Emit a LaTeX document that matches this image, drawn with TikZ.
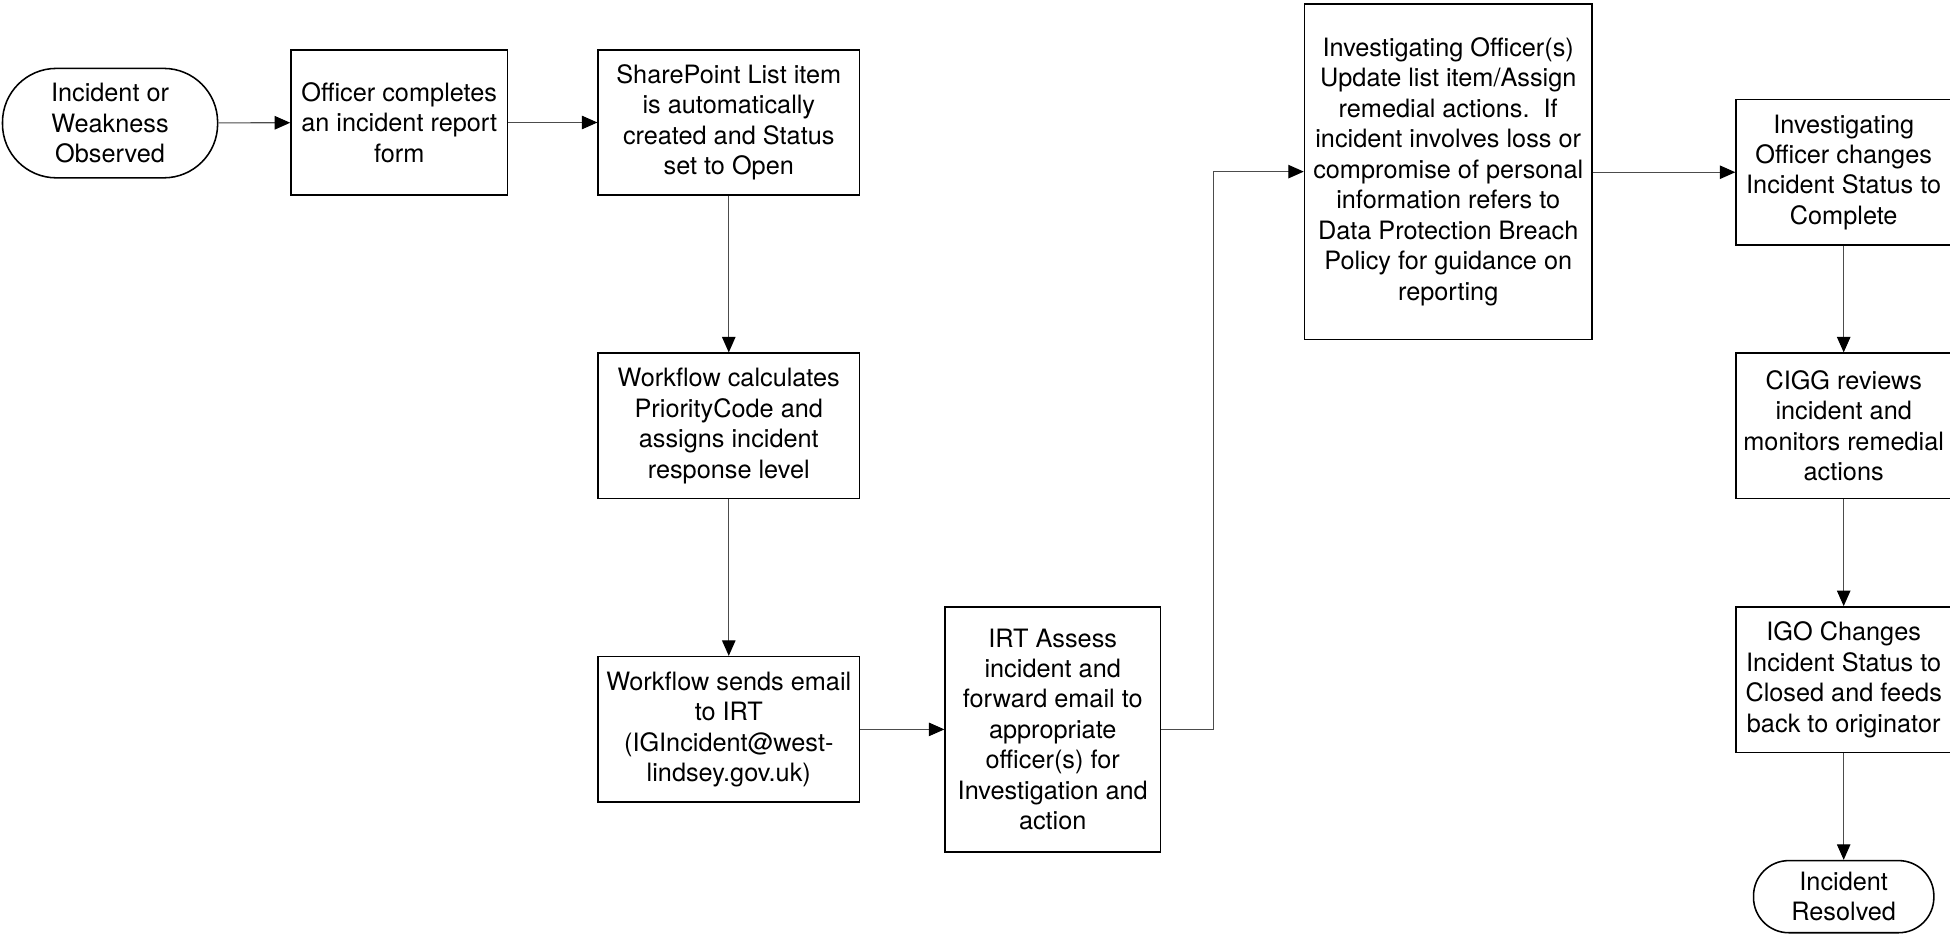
\documentclass[tikz,border=0pt]{standalone}
\usepackage{fontspec}
\setmainfont{TeX Gyre Heros}
\usetikzlibrary{arrows.meta}
\begin{document}
\begin{tikzpicture}[x=0.6pt,y=-0.6pt,
  every node/.style={font=\fontsize{12.2}{14.7}\selectfont, align=center, inner sep=1pt},
  procbox/.style={draw, line width=0.75pt, rectangle},
  termbox/.style={draw, line width=0.75pt, rectangle, rounded corners=#1},
  arr/.style={draw=black!70, line width=0.55pt, -{Triangle[length=7.5pt,width=6.5pt,color=black]}}
]
\useasboundingbox (0,0) rectangle (1568,752);

\node[termbox=26pt, minimum width=103.8pt, minimum height=52.8pt] (t1) at (88.5,99) {Incident or\\Weakness\\Observed};
\node[procbox, minimum width=104.4pt, minimum height=70.2pt] (b2) at (321,98.5) {Officer completes\\an incident report\\form};
\node[procbox, minimum width=126pt, minimum height=70.2pt] (b3) at (586,98.5) {SharePoint List item\\is automatically\\created and Status\\set to Open};
\node[procbox, minimum width=126pt, minimum height=70.2pt] (b4) at (586,342.5) {Workflow calculates\\PriorityCode and\\assigns incident\\response level};
\node[procbox, minimum width=126pt, minimum height=70.2pt] (b5) at (586,586.5) {Workflow sends email\\to IRT\\(IGIncident@west-\\lindsey.gov.uk)};
\node[procbox, minimum width=103.8pt, minimum height=118.2pt] (b6) at (846.5,586.5) {IRT Assess\\incident and\\forward email to\\appropriate\\officer(s) for\\Investigation and\\action};
\node[procbox, minimum width=138.6pt, minimum height=162pt] (b7) at (1164.5,138) {Investigating Officer(s)\\Update list item/Assign\\remedial actions.\ \ If\\incident involves loss or\\compromise of personal\\information refers to\\Data Protection Breach\\Policy for guidance on\\reporting};
\node[procbox, minimum width=103.8pt, minimum height=70.2pt] (b8) at (1482.5,138.5) {Investigating\\Officer changes\\Incident Status to\\Complete};
\node[procbox, minimum width=103.8pt, minimum height=70.2pt] (b9) at (1482.5,342.5) {CIGG reviews\\incident and\\monitors remedial\\actions};
\node[procbox, minimum width=103.8pt, minimum height=70.2pt] (b10) at (1482.5,546.5) {IGO Changes\\Incident Status to\\Closed and feeds\\back to originator};
\node[termbox=17pt, minimum width=87pt, minimum height=34.8pt] (t2) at (1482.5,721) {Incident\\Resolved};

\coordinate (bend) at (976,0);

\draw[arr] (t1) -- (b2);
\draw[arr] (b2) -- (b3);
\draw[arr] (b3) -- (b4);
\draw[arr] (b4) -- (b5);
\draw[arr] (b5) -- (b6);
\draw[arr] (b6.east) -- (b6.east -| bend) |- (b7.west);
\draw[arr] (b7.east |- b8.west) -- (b8.west);
\draw[arr] (b8) -- (b9);
\draw[arr] (b9) -- (b10);
\draw[arr] (b10.south -| t2.north) -- (t2.north);
\end{tikzpicture}
\end{document}
